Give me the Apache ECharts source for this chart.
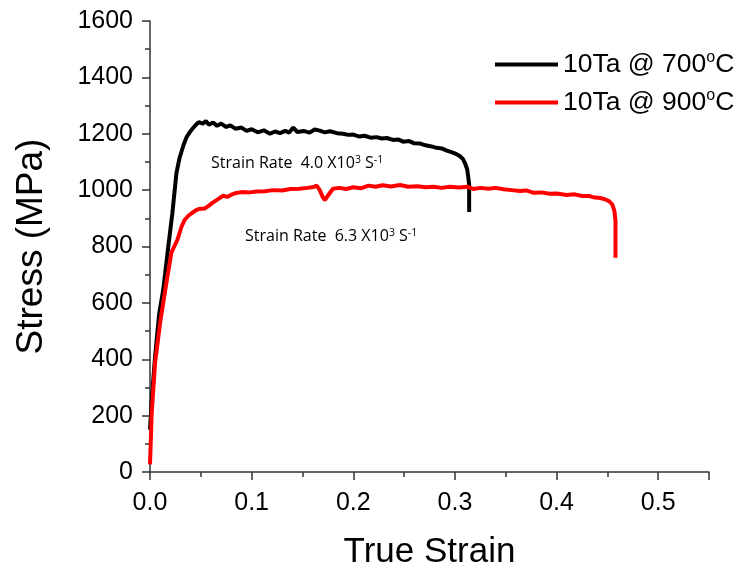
<!DOCTYPE html>
<html>
<head>
<meta charset="utf-8">
<script src="https://cdn.jsdelivr.net/npm/echarts@6/dist/echarts.min.js"></script>
<style>html,body{margin:0;padding:0;background:#fff}#c{width:743px;height:565px}</style>
</head>
<body>
<div id="c"></div>
<script>
// Series names
const seriesNames = ['10Ta @ 700{s|o}C', '10Ta @ 900{s|o}C'];
// [true strain, stress MPa]
const curve700 = [
  [0,150],[0.002,270],[0.005,410],[0.009,560],[0.013,646],[0.018,800],[0.022,918],[0.026,1060],
  [0.029,1113],[0.033,1160],[0.036,1188],[0.040,1210],[0.043,1223],[0.046,1235],[0.048,1241],
  [0.052,1236],[0.055,1245],[0.058,1232],[0.062,1240],[0.066,1228],[0.070,1236],[0.075,1224],
  [0.079,1230],[0.084,1218],[0.090,1222],[0.095,1210],[0.100,1216],[0.106,1205],[0.112,1212],
  [0.118,1200],[0.123,1208],[0.128,1202],[0.133,1210],[0.137,1204],[0.141,1222],[0.145,1206],
  [0.151,1210],[0.157,1204],[0.162,1215],[0.167,1211],[0.172,1205],[0.177,1209],[0.184,1202],
  [0.190,1200],[0.195,1196],[0.200,1197],[0.206,1190],[0.211,1193],[0.217,1186],[0.223,1188],
  [0.228,1183],[0.233,1185],[0.239,1178],[0.244,1180],[0.249,1172],[0.255,1174],[0.260,1166],
  [0.266,1165],[0.271,1159],[0.277,1155],[0.282,1150],[0.287,1148],[0.292,1140],[0.298,1133],
  [0.302,1127],[0.305,1120],[0.308,1110],[0.310,1095],[0.312,1075],[0.313,1050],[0.314,1020],
  [0.314,970],[0.314,922]
];
const curve900 = [
  [0,27],[0.0017,211],[0.005,388],[0.010,530],[0.015,646],[0.021,778],[0.027,824],[0.031,870],
  [0.034,894],[0.038,910],[0.041,918],[0.045,928],[0.048,933],[0.054,935],[0.058,945],[0.061,954],
  [0.067,968],[0.072,980],[0.076,976],[0.080,984],[0.085,990],[0.090,993],[0.098,992],[0.105,995],
  [0.113,996],[0.121,1000],[0.130,999],[0.138,1004],[0.147,1005],[0.155,1008],[0.161,1011],
  [0.164,1016],[0.167,1000],[0.170,975],[0.172,965],[0.175,980],[0.180,1005],[0.186,1008],
  [0.193,1004],[0.200,1010],[0.208,1007],[0.215,1016],[0.222,1012],[0.229,1017],[0.237,1013],
  [0.246,1018],[0.254,1012],[0.263,1014],[0.271,1010],[0.279,1012],[0.287,1008],[0.295,1012],
  [0.304,1009],[0.312,1012],[0.318,1004],[0.325,1008],[0.333,1005],[0.340,1008],[0.348,1003],
  [0.356,1000],[0.364,997],[0.370,999],[0.377,991],[0.385,992],[0.393,987],[0.400,988],
  [0.410,983],[0.418,985],[0.425,979],[0.432,979],[0.436,975],[0.443,972],[0.448,967],
  [0.452,960],[0.455,948],[0.457,925],[0.458,890],[0.458,820],[0.458,760]
];
const annotations = [
  '{t|Strain Rate  4.0 X10}{s|3}{t| S}{s|-1}',
  '{t|Strain Rate  6.3 X10}{s|3}{t| S}{s|-1}'
];
const xLabelFmt = v => v.toFixed(1);
const yLabelFmt = v => String(v);

const chart = echarts.init(document.getElementById('c'), null, {renderer: 'canvas'});
const axisCol = '#333';
const baseFont = 'Liberation Sans, Arial, sans-serif';
const annRich = {
  t: {fontFamily: 'Open Sans, sans-serif', fontSize: 16, color: '#222', lineHeight: 20, verticalAlign: 'top'},
  s: {fontFamily: 'Open Sans, sans-serif', fontSize: 10.5, color: '#222', lineHeight: 13, verticalAlign: 'top'}
};
chart.setOption({
  animation: false,
  backgroundColor: '#fff',
  grid: {left: 150, right: 34, top: 21, bottom: 93, containLabel: false, outerBoundsMode: 'none'},
  legend: {
    orient: 'vertical', left: 490, top: 45, itemGap: 9,
    icon: 'rect', itemWidth: 63, itemHeight: 4,
    data: seriesNames,
    textStyle: {
      fontFamily: baseFont, fontSize: 26.5, color: '#000', padding: [0,0,0,0], lineHeight: 29,
      rich: {
        s: {fontFamily: baseFont, fontSize: 16, color: '#000', verticalAlign: 'top', lineHeight: 16}
      }
    }
  },
  xAxis: {
    type: 'value', min: 0, max: 0.55, interval: 0.1,
    name: 'True Strain', nameLocation: 'middle', nameGap: 63,
    nameTextStyle: {fontFamily: baseFont, fontSize: 35, color: '#000'},
    axisLine: {show: true, onZero: false, lineStyle: {color: axisCol, width: 1.5}},
    axisTick: {show: true, length: 8, lineStyle: {color: axisCol, width: 1.5}},
    minorTick: {show: true, splitNumber: 2, length: 5, lineStyle: {color: axisCol, width: 1.5}},
    axisLabel: {fontFamily: baseFont, fontSize: 25, color: '#000', margin: 19, formatter: xLabelFmt,
      showMaxLabel: false},
    splitLine: {show: false}
  },
  yAxis: {
    type: 'value', min: 0, max: 1600, interval: 200,
    name: 'Stress (MPa)', nameLocation: 'middle', nameGap: 100, nameRotate: 90,
    nameTextStyle: {fontFamily: baseFont, fontSize: 37, color: '#000'},
    axisLine: {show: true, onZero: false, lineStyle: {color: axisCol, width: 1.5}},
    axisTick: {show: true, length: 8, lineStyle: {color: axisCol, width: 1.5}},
    minorTick: {show: true, splitNumber: 2, length: 5, lineStyle: {color: axisCol, width: 1.5}},
    axisLabel: {fontFamily: baseFont, fontSize: 25, color: '#000', margin: 17, formatter: yLabelFmt},
    splitLine: {show: false}
  },
  graphic: [
    {type: 'text', left: 211, top: 155, style: {text: annotations[0], rich: annRich}},
    {type: 'text', left: 245, top: 228, style: {text: annotations[1], rich: annRich}}
  ],
  series: [
    {name: seriesNames[0], type: 'line', data: curve700, showSymbol: false, symbol: 'none',
      lineStyle: {color: '#000', width: 4}, itemStyle: {color: '#000'}, z: 2},
    {name: seriesNames[1], type: 'line', data: curve900, showSymbol: false, symbol: 'none',
      lineStyle: {color: '#ff0000', width: 4}, itemStyle: {color: '#ff0000'}, z: 3}
  ]
});
</script>
</body>
</html>
